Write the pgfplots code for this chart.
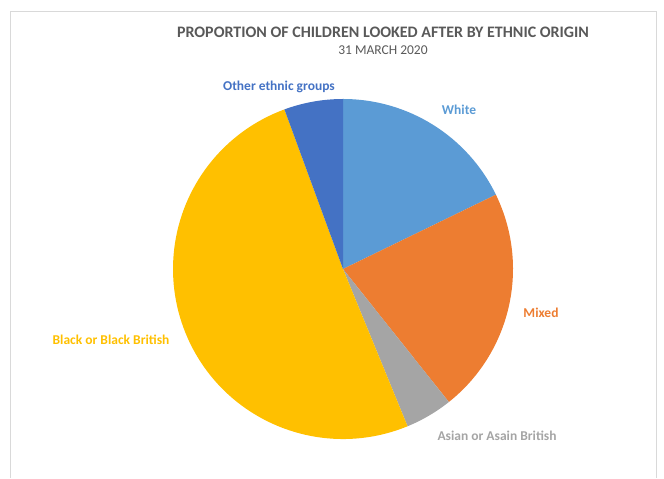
\documentclass[border=0pt]{standalone}
\usepackage{pgfplots}
\usepackage{pgfplotstable}
\pgfplotsset{compat=1.18}
\usepackage{fontspec}
\setmainfont{Carlito}

\definecolor{c0}{HTML}{5B9BD5}
\definecolor{c1}{HTML}{ED7D31}
\definecolor{c2}{HTML}{A5A5A5}
\definecolor{c3}{HTML}{FFC000}
\definecolor{c4}{HTML}{4472C4}
\definecolor{titlegray}{HTML}{595959}
\definecolor{framegray}{HTML}{D9D9D9}

\pgfplotstableread{
name value
White 17.8
Mixed 21.5
Asian 4.5
Black 50.6
Other 5.6
}\piedata

\def\cum{90}
\pgfplotsforeachungrouped \i in {0,...,4}{%
  \pgfplotstablegetelem{\i}{value}\of\piedata
  \pgfmathsetmacro\endang{\cum-3.6*\pgfplotsretval}%
  \expandafter\xdef\csname sa\i\endcsname{\cum}%
  \expandafter\xdef\csname ea\i\endcsname{\endang}%
  \xdef\cum{\endang}%
}

\begin{document}
\begin{tikzpicture}
\begin{axis}[
  width=664pt, height=478pt, scale only axis,
  xmin=0, xmax=664, ymin=0, ymax=478,
  hide axis, clip=false]
  % full canvas
  \path (axis cs:0,0) rectangle (axis cs:664,478);
  % frame
  \draw[framegray, line width=0.8pt] (axis cs:10,0) -- (axis cs:10,467) -- (axis cs:656,467) -- (axis cs:656,0);
  % pie slices
  \pgfplotsinvokeforeach{0,...,4}{%
    \fill[c#1] (axis cs:343,209) -- ([shift={(\csname sa#1\endcsname:170pt)}]axis cs:343,209)
      arc[start angle=\csname sa#1\endcsname, end angle=\csname ea#1\endcsname, radius=170pt] -- cycle;
  }
  % titles
  \node[font=\fontsize{16}{19}\selectfont\bfseries, text=titlegray] at (axis cs:383,446) {PROPORTION OF CHILDREN LOOKED AFTER BY ETHNIC ORIGIN};
  \node[font=\fontsize{13.5}{16}\selectfont, text=titlegray] at (axis cs:383,428) {31 MARCH 2020};
  % labels
  \node[font=\fontsize{13.5}{16}\selectfont\bfseries, text=c4] at (axis cs:279,391) {Other ethnic groups};
  \node[font=\fontsize{13.5}{16}\selectfont\bfseries, text=c0] at (axis cs:459,368) {White};
  \node[font=\fontsize{13.5}{16}\selectfont\bfseries, text=c1] at (axis cs:541,165) {Mixed};
  \node[font=\fontsize{13.5}{16}\selectfont\bfseries, text=c2] at (axis cs:497,42) {Asian or Asain British};
  \node[font=\fontsize{13.5}{16}\selectfont\bfseries, text=c3] at (axis cs:111,138) {Black or Black British};
\end{axis}
\end{tikzpicture}
\end{document}
